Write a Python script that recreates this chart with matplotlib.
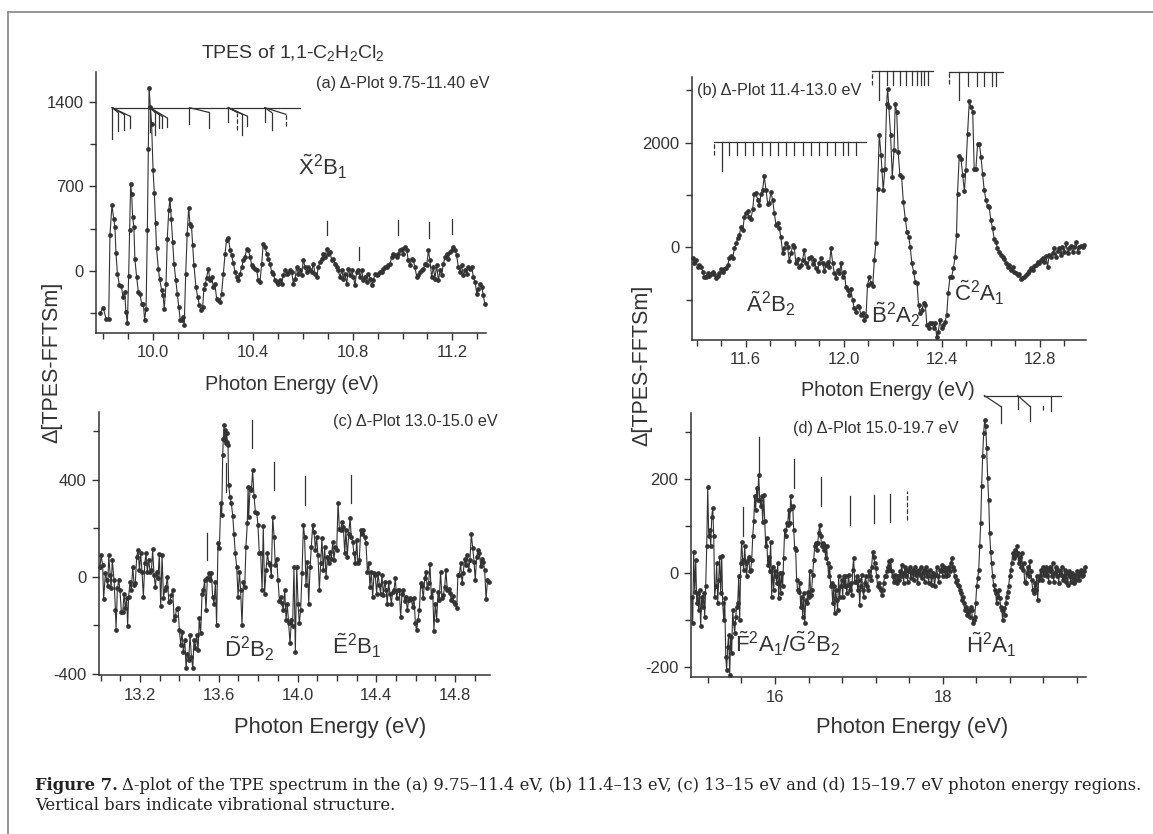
import matplotlib
matplotlib.use("Agg")
import matplotlib.pyplot as plt
from matplotlib.lines import Line2D
from matplotlib.ticker import MultipleLocator, FormatStrFormatter

plt.rcParams['font.family'] = ['Liberation Sans', 'DejaVu Sans']
plt.rcParams['mathtext.fontset'] = 'custom'
plt.rcParams['mathtext.rm'] = 'Liberation Sans'
plt.rcParams['mathtext.it'] = 'Liberation Sans:italic'
plt.rcParams['mathtext.bf'] = 'Liberation Sans:bold'

INK = '#333333'

# ---------------- panel (a): 9.75-11.40 eV ----------------
a_energy = [9.786, 9.799, 9.810, 9.821, 9.826, 9.834, 9.841, 9.846, 9.850, 9.856,
            9.864, 9.872, 9.878, 9.885, 9.890, 9.896, 9.901, 9.905, 9.909, 9.913,
            9.917, 9.922, 9.926, 9.933, 9.940, 9.946, 9.953, 9.960, 9.965, 9.971,
            9.976, 9.980, 9.983, 9.988, 9.993, 9.999, 10.004, 10.009, 10.013, 10.020,
            10.025, 10.033, 10.039, 10.044, 10.051, 10.056, 10.062, 10.067, 10.072, 10.078,
            10.083, 10.090, 10.096, 10.102, 10.108, 10.114, 10.120, 10.124, 10.130, 10.136,
            10.142, 10.147, 10.153, 10.158, 10.163, 10.171, 10.178, 10.185, 10.191, 10.198,
            10.203, 10.209, 10.214, 10.221, 10.227, 10.234, 10.241, 10.247, 10.254, 10.261,
            10.268, 10.274, 10.281, 10.288, 10.294, 10.301, 10.308, 10.314, 10.321, 10.328,
            10.334, 10.341, 10.348, 10.355, 10.361, 10.368, 10.375, 10.381, 10.388, 10.395,
            10.401, 10.408, 10.415, 10.421, 10.428, 10.435, 10.441, 10.448, 10.455, 10.462,
            10.468, 10.475, 10.482, 10.488, 10.495, 10.502, 10.508, 10.515, 10.522, 10.528,
            10.535, 10.542, 10.548, 10.555, 10.562, 10.569, 10.575, 10.582, 10.589, 10.595,
            10.602, 10.609, 10.615, 10.622, 10.629, 10.635, 10.642, 10.649, 10.656, 10.662,
            10.669, 10.676, 10.682, 10.689, 10.696, 10.702, 10.709, 10.716, 10.722, 10.729,
            10.736, 10.742, 10.749, 10.756, 10.763, 10.769, 10.776, 10.783, 10.789, 10.796,
            10.803, 10.809, 10.816, 10.823, 10.829, 10.836, 10.843, 10.849, 10.856, 10.863,
            10.870, 10.876, 10.883, 10.890, 10.896, 10.903, 10.910, 10.916, 10.923, 10.930,
            10.936, 10.943, 10.950, 10.957, 10.963, 10.970, 10.977, 10.983, 10.990, 10.997,
            11.003, 11.010, 11.017, 11.023, 11.030, 11.037, 11.043, 11.050, 11.057, 11.064,
            11.070, 11.077, 11.084, 11.090, 11.097, 11.104, 11.110, 11.117, 11.124, 11.130,
            11.137, 11.144, 11.151, 11.157, 11.164, 11.171, 11.177, 11.184, 11.191, 11.197,
            11.204, 11.211, 11.217, 11.224, 11.231, 11.237, 11.244, 11.251, 11.258, 11.264,
            11.271, 11.278, 11.284, 11.291, 11.298, 11.304, 11.311, 11.318, 11.324, 11.330]
a_signal = [-347, -303, -394, -394, 295, 543, 433, 364, 152, -22,
            -118, -127, -215, -174, -339, -430, -44, 336, 722, 639,
            446, 364, 102, -50, -174, -187, -270, -270, -402, -311,
            336, 1011, 1516, 1356, 1218, 832, 645, 397, 190, 19,
            -63, -154, -201, -311, -105, 267, 502, 598, 433, 240,
            61, -77, -187, -298, -402, -408, -380, -449, -22, 309,
            524, 391, 375, 212, 47, -132, -215, -284, -325, -298,
            -146, -105, -55, 19, -77, -50, -132, -105, -229, -243,
            -256, -187, -22, 143, 259, 276, 176, 130, 66, -8,
            -50, -77, -22, 33, 88, 116, 185, 176, 116, 47,
            33, 19, 6, -77, -91, 61, 226, 198, 143, 102,
            61, -8, -22, -77, -91, -105, -77, -105, -36, 11,
            -22, -17, 11, -8, -105, -63, 33, -22, 6, -36,
            88, 33, -8, 33, 6, -8, 61, -22, -50, 33,
            74, 102, 143, 116, 185, 143, 157, 88, 102, 61,
            33, 6, -50, 6, -63, -22, -105, 19, -36, 6,
            -50, -118, -8, 6, -50, 6, -77, -50, -91, -22,
            -63, -118, -77, -22, -36, -22, -8, -8, 19, 33,
            33, 47, 61, 116, 143, 130, 116, 143, 171, 185,
            143, 198, 171, 88, 47, 102, 88, 33, -50, -36,
            -8, 6, 19, 61, 47, 171, 88, -50, 33, -63,
            47, -77, 6, -36, 61, 116, 143, 102, 157, 171,
            198, 176, 130, 33, -8, 47, -36, 6, -22, 33,
            19, 33, -50, -91, -187, -146, -105, -132, -201, -270]

# vibrational progression fans above (a)
a_comb_level = 1350
a_comb_span = [9.835, 10.589]
a_origins = [9.835, 9.987, 10.145, 10.301, 10.448]
a_origin_low = [1094, 1150, 1218, 1232, 1232]
a_branches = [[9.859, 9.882, 9.906], [10.007, 10.021, 10.034, 10.056], [10.225],
              [10.337, 10.357, 10.377], [10.475, 10.532]]
a_branch_low = [[1158, 1163, 1185], [1122, 1180, 1185, 1190], [1185],
                [1163, 1122, 1196], [1163, 1196]]
a_dashed = [10.337, 10.532]
a_bar_x = [10.698, 10.825, 10.983, 11.106, 11.199]
a_bar_top = [413, 198, 419, 405, 433]
a_bar_low = [295, 94, 300, 276, 309]

# ---------------- panel (b): 11.4-13.0 eV ----------------
b_energy = [11.384, 11.391, 11.397, 11.404, 11.411, 11.418, 11.425, 11.431, 11.438, 11.445,
            11.452, 11.459, 11.465, 11.472, 11.479, 11.486, 11.493, 11.499, 11.506, 11.513,
            11.520, 11.527, 11.533, 11.540, 11.547, 11.554, 11.561, 11.567, 11.574, 11.581,
            11.588, 11.595, 11.601, 11.608, 11.615, 11.622, 11.629, 11.635, 11.642, 11.649,
            11.656, 11.663, 11.669, 11.676, 11.683, 11.690, 11.696, 11.703, 11.710, 11.717,
            11.724, 11.730, 11.737, 11.744, 11.751, 11.758, 11.764, 11.771, 11.778, 11.785,
            11.792, 11.798, 11.805, 11.812, 11.819, 11.826, 11.832, 11.839, 11.846, 11.853,
            11.860, 11.866, 11.873, 11.880, 11.887, 11.894, 11.900, 11.907, 11.914, 11.921,
            11.928, 11.934, 11.941, 11.948, 11.955, 11.962, 11.968, 11.975, 11.982, 11.989,
            11.995, 12.002, 12.009, 12.016, 12.023, 12.029, 12.036, 12.043, 12.050, 12.057,
            12.063, 12.070, 12.077, 12.084, 12.091, 12.097, 12.104, 12.111, 12.118, 12.125,
            12.131, 12.138, 12.145, 12.152, 12.156, 12.161, 12.168, 12.175, 12.179, 12.184,
            12.191, 12.198, 12.205, 12.210, 12.216, 12.222, 12.229, 12.236, 12.243, 12.251,
            12.258, 12.265, 12.271, 12.278, 12.285, 12.292, 12.299, 12.305, 12.312, 12.319,
            12.326, 12.333, 12.339, 12.346, 12.353, 12.360, 12.367, 12.373, 12.379, 12.386,
            12.392, 12.399, 12.406, 12.413, 12.420, 12.426, 12.433, 12.440, 12.447, 12.454,
            12.460, 12.464, 12.471, 12.478, 12.485, 12.492, 12.498, 12.505, 12.512, 12.519,
            12.526, 12.532, 12.539, 12.546, 12.553, 12.560, 12.566, 12.573, 12.580, 12.587,
            12.593, 12.600, 12.607, 12.614, 12.621, 12.627, 12.634, 12.641, 12.648, 12.655,
            12.661, 12.668, 12.675, 12.682, 12.689, 12.695, 12.702, 12.709, 12.716, 12.723,
            12.729, 12.736, 12.743, 12.750, 12.757, 12.763, 12.770, 12.777, 12.784, 12.791,
            12.797, 12.804, 12.811, 12.818, 12.825, 12.831, 12.838, 12.845, 12.852, 12.859,
            12.865, 12.872, 12.879, 12.886, 12.892, 12.899, 12.906, 12.913, 12.920, 12.927,
            12.933, 12.940, 12.947, 12.954, 12.960, 12.967, 12.974, 12.981]
b_signal = [-210, -305, -241, -368, -337, -368, -463, -559, -559, -495,
            -546, -508, -463, -508, -590, -546, -495, -419, -463, -419,
            -400, -337, -210, -165, -210, -19, 76, 171, 235, 394,
            330, 584, 660, 692, 584, 552, 743, 1029, 1041, 902,
            806, 1029, 1092, 1359, 1092, 838, 851, 1060, 902, 648,
            425, 470, 375, 190, -114, -19, 89, 13, -254, -114,
            44, 13, -305, -229, -381, -337, -241, -51, -305, -368,
            -210, -178, -317, -241, -400, -444, -305, -210, -305, -444,
            -337, -273, -368, -19, -305, -495, -590, -432, -495, -305,
            -559, -463, -749, -813, -908, -800, -1003, -1162, -1225, -1117,
            -1143, -1289, -1257, -1384, -1308, -717, -571, -686, -737, -241,
            76, 1124, 2152, 1771, 1473, 1092, 1505, 2743, 3029, 2679,
            2140, 1346, 1854, 2743, 2584, 1822, 1378, 1346, 870, 552,
            298, 203, 13, -305, -463, -654, -686, -1098, -1257, -1194,
            -1054, -1098, -1479, -1543, -1448, -1435, -1543, -1448, -1702, -1606,
            -1384, -1543, -1479, -1416, -1289, -876, -571, -559, -400, -178,
            235, 1029, 1746, 1695, 1390, 1073, 1473, 2171, 2787, 2679,
            2584, 1505, 1505, 1981, 1981, 1727, 1409, 1092, 902, 787,
            775, 521, 362, 152, 108, -19, -83, -146, -178, -229,
            -305, -368, -337, -432, -368, -463, -495, -527, -508, -610,
            -590, -559, -533, -483, -444, -400, -432, -356, -337, -273,
            -305, -241, -210, -273, -165, -368, -146, -178, -114, -19,
            -178, -63, -19, -146, 13, -83, 76, -114, -19, 25,
            -83, 13, 108, -83, 13, 25, 0, 44]

# comb-like progressions above (b)
b_comb_level = [2013, 3359, 3346]
b_comb_start = [11.472, 12.114, 12.430]
b_comb_end = [12.091, 12.365, 12.648]
b_comb_dash_low = [1759, 3092, 3124]
b_comb_main = [11.502, 12.144, 12.470]
b_comb_main_low = [1460, 2819, 2819]
b_comb_ticks = [[11.532, 11.565, 11.599, 11.632, 11.665, 11.698, 11.732, 11.765, 11.798,
                 11.832, 11.865, 11.898, 11.932, 11.965, 11.998, 12.019, 12.050],
                [12.175, 12.202, 12.229, 12.254, 12.277, 12.297, 12.314, 12.328, 12.345],
                [12.508, 12.542, 12.573, 12.603, 12.621]]
b_comb_tick_low = [1759, 3092, 3073]

# ---------------- panel (c): 13.0-15.0 eV ----------------
c_energy = [12.997, 13.002, 13.010, 13.015, 13.024, 13.031, 13.036, 13.041, 13.048, 13.053,
            13.059, 13.068, 13.075, 13.078, 13.085, 13.092, 13.098, 13.105, 13.112, 13.119,
            13.125, 13.132, 13.137, 13.142, 13.149, 13.156, 13.163, 13.170, 13.176, 13.183,
            13.190, 13.197, 13.203, 13.210, 13.217, 13.224, 13.230, 13.237, 13.244, 13.251,
            13.258, 13.264, 13.271, 13.278, 13.285, 13.291, 13.298, 13.305, 13.312, 13.319,
            13.325, 13.332, 13.339, 13.346, 13.352, 13.359, 13.366, 13.373, 13.379, 13.386,
            13.393, 13.400, 13.407, 13.413, 13.420, 13.427, 13.434, 13.440, 13.447, 13.454,
            13.461, 13.468, 13.474, 13.481, 13.488, 13.495, 13.501, 13.508, 13.515, 13.522,
            13.528, 13.535, 13.542, 13.549, 13.556, 13.562, 13.569, 13.576, 13.583, 13.589,
            13.596, 13.603, 13.610, 13.615, 13.620, 13.623, 13.627, 13.630, 13.633, 13.637,
            13.640, 13.644, 13.647, 13.650, 13.657, 13.664, 13.671, 13.677, 13.684, 13.691,
            13.698, 13.705, 13.711, 13.718, 13.725, 13.732, 13.738, 13.745, 13.749, 13.752,
            13.759, 13.766, 13.772, 13.779, 13.786, 13.793, 13.799, 13.806, 13.813, 13.820,
            13.826, 13.833, 13.840, 13.847, 13.854, 13.860, 13.867, 13.874, 13.881, 13.887,
            13.894, 13.901, 13.908, 13.915, 13.921, 13.928, 13.935, 13.942, 13.948, 13.955,
            13.962, 13.969, 13.975, 13.982, 13.989, 13.996, 14.003, 14.009, 14.016, 14.023,
            14.030, 14.036, 14.043, 14.050, 14.057, 14.064, 14.070, 14.077, 14.084, 14.091,
            14.097, 14.104, 14.111, 14.118, 14.124, 14.131, 14.138, 14.145, 14.152, 14.158,
            14.165, 14.172, 14.179, 14.185, 14.192, 14.199, 14.206, 14.213, 14.219, 14.226,
            14.233, 14.240, 14.246, 14.253, 14.260, 14.267, 14.273, 14.280, 14.287, 14.294,
            14.301, 14.307, 14.314, 14.321, 14.328, 14.334, 14.341, 14.348, 14.355, 14.362,
            14.368, 14.375, 14.382, 14.389, 14.395, 14.402, 14.409, 14.416, 14.422, 14.429,
            14.436, 14.443, 14.450, 14.456, 14.463, 14.470, 14.477, 14.483, 14.490, 14.497,
            14.504, 14.510, 14.517, 14.524, 14.531, 14.538, 14.544, 14.551, 14.558, 14.565,
            14.571, 14.578, 14.585, 14.592, 14.599, 14.605, 14.612, 14.619, 14.626, 14.632,
            14.639, 14.646, 14.653, 14.659, 14.666, 14.673, 14.680, 14.687, 14.693, 14.700,
            14.707, 14.714, 14.720, 14.727, 14.734, 14.741, 14.748, 14.754, 14.761, 14.768,
            14.775, 14.781, 14.788, 14.795, 14.802, 14.809, 14.815, 14.822, 14.829, 14.836,
            14.842, 14.849, 14.856, 14.863, 14.870, 14.876, 14.883, 14.890, 14.897, 14.903,
            14.910, 14.917, 14.924, 14.931, 14.937, 14.944, 14.951, 14.958, 14.965, 14.971]
c_signal = [41, 89, 48, -93, 16, -14, -38, 89, 7, -48,
            69, -14, -137, -217, -48, -14, -55, -144, -144, -69,
            -130, -89, -203, -82, -21, -55, 41, -34, -25, 82,
            110, 27, 96, 21, -82, 55, 96, 21, 69, 21,
            27, 113, 7, -41, 21, -7, 93, -121, 89, -89,
            -55, -41, 0, -103, -99, -75, -55, -176, -162, -134,
            -130, -220, -281, -226, -309, -258, -377, -316, -343, -240,
            -329, -377, -261, -295, -240, -302, -171, -233, -71, -55,
            -14, -137, -7, 14, -14, 16, -82, -110, -21, -199,
            137, 117, 305, 254, 501, 565, 624, 563, 604, 549,
            590, 556, 542, 377, 329, 302, 250, 178, 96, 41,
            -82, 21, -55, -199, -21, -41, 123, 220, 370, 247,
            364, 357, 439, 332, 268, 263, 213, 96, 96, -55,
            209, -69, 27, 96, 55, 48, 3, 244, 165, 48,
            75, -14, -99, -82, -107, -137, -55, -178, -110, -192,
            -274, -178, -203, 41, -309, 41, -110, -192, -137, 16,
            213, 165, -34, 62, -110, 41, 123, 213, 185, 110,
            165, 89, -55, 55, 158, 27, 123, 0, 82, 55,
            103, 75, 144, 69, 123, 110, 305, 195, 192, 226,
            206, 96, 192, 82, 178, 240, 165, 144, 96, 55,
            151, 55, 69, 192, 176, 192, 165, 137, 21, 55,
            -41, 21, -82, 16, 7, -69, 14, -34, -69, 7,
            -75, -21, -55, -110, -21, -71, -110, -62, -55, -7,
            -89, -55, -55, -167, -69, -55, -99, -82, -137, -96,
            -89, -93, -123, -89, -192, -220, -178, -137, -25, -38,
            -89, -7, 21, -48, -27, 52, -82, -55, -222, -110,
            -178, -62, -96, 21, -89, -75, -41, 27, -55, -52,
            -66, -96, -80, -103, -110, -130, 7, 7, 55, -27,
            16, 75, 48, 89, 27, 69, 176, 117, 62, -14,
            82, 110, 96, 44, 75, 62, 27, -93, -14, -21]

c_bar_x = [13.542, 13.635, 13.767, 13.882, 14.038, 14.270]
c_bar_top = [181, 466, 645, 473, 414, 418]
c_bar_low = [69, 350, 528, 357, 295, 302]

# ---------------- panel (d): 15.0-19.7 eV ----------------
d_energy = [15.006, 15.018, 15.030, 15.042, 15.054, 15.066, 15.078, 15.089, 15.101, 15.113,
            15.125, 15.137, 15.149, 15.161, 15.173, 15.185, 15.197, 15.209, 15.221, 15.233,
            15.245, 15.257, 15.269, 15.280, 15.292, 15.304, 15.316, 15.328, 15.340, 15.352,
            15.364, 15.376, 15.388, 15.400, 15.412, 15.423, 15.435, 15.447, 15.459, 15.471,
            15.483, 15.495, 15.507, 15.519, 15.531, 15.543, 15.555, 15.567, 15.579, 15.591,
            15.602, 15.614, 15.626, 15.638, 15.650, 15.662, 15.674, 15.686, 15.698, 15.710,
            15.722, 15.734, 15.746, 15.758, 15.769, 15.781, 15.793, 15.805, 15.817, 15.829,
            15.841, 15.853, 15.865, 15.877, 15.889, 15.901, 15.913, 15.924, 15.936, 15.948,
            15.960, 15.972, 15.984, 15.996, 16.008, 16.020, 16.032, 16.044, 16.056, 16.068,
            16.079, 16.091, 16.103, 16.115, 16.127, 16.139, 16.151, 16.163, 16.175, 16.187,
            16.199, 16.211, 16.223, 16.235, 16.246, 16.258, 16.270, 16.282, 16.294, 16.306,
            16.318, 16.330, 16.342, 16.354, 16.366, 16.378, 16.390, 16.401, 16.413, 16.425,
            16.437, 16.449, 16.461, 16.473, 16.485, 16.497, 16.509, 16.521, 16.533, 16.545,
            16.557, 16.568, 16.580, 16.592, 16.604, 16.616, 16.628, 16.640, 16.652, 16.664,
            16.676, 16.688, 16.700, 16.712, 16.723, 16.735, 16.747, 16.759, 16.771, 16.783,
            16.795, 16.807, 16.819, 16.831, 16.843, 16.855, 16.867, 16.879, 16.890, 16.902,
            16.914, 16.926, 16.938, 16.950, 16.962, 16.974, 16.986, 16.998, 17.010, 17.022,
            17.034, 17.046, 17.057, 17.069, 17.081, 17.093, 17.105, 17.117, 17.129, 17.141,
            17.153, 17.165, 17.177, 17.189, 17.201, 17.213, 17.224, 17.236, 17.248, 17.260,
            17.272, 17.284, 17.296, 17.308, 17.320, 17.332, 17.344, 17.356, 17.368, 17.380,
            17.392, 17.403, 17.415, 17.427, 17.439, 17.451, 17.463, 17.475, 17.487, 17.499,
            17.511, 17.523, 17.535, 17.547, 17.558, 17.570, 17.582, 17.594, 17.606, 17.618,
            17.630, 17.642, 17.654, 17.666, 17.678, 17.690, 17.702, 17.714, 17.725, 17.737,
            17.749, 17.761, 17.773, 17.785, 17.797, 17.809, 17.821, 17.833, 17.845, 17.857,
            17.869, 17.880, 17.892, 17.904, 17.916, 17.928, 17.940, 17.952, 17.964, 17.976,
            17.988, 18.000, 18.012, 18.024, 18.035, 18.047, 18.059, 18.071, 18.083, 18.095,
            18.107, 18.119, 18.131, 18.143, 18.155, 18.167, 18.179, 18.191, 18.202, 18.214,
            18.227, 18.239, 18.251, 18.263, 18.275, 18.287, 18.299, 18.311, 18.322, 18.334,
            18.346, 18.358, 18.370, 18.382, 18.394, 18.406, 18.418, 18.430, 18.442, 18.454,
            18.465, 18.477, 18.489, 18.501, 18.513, 18.525, 18.537, 18.549, 18.561, 18.573,
            18.584, 18.596, 18.608, 18.620, 18.632, 18.644, 18.656, 18.668, 18.680, 18.692,
            18.704, 18.716, 18.728, 18.740, 18.751, 18.763, 18.775, 18.787, 18.799, 18.811,
            18.823, 18.835, 18.847, 18.859, 18.871, 18.883, 18.895, 18.907, 18.918, 18.930,
            18.942, 18.954, 18.966, 18.978, 18.990, 19.002, 19.014, 19.026, 19.038, 19.050,
            19.062, 19.074, 19.085, 19.097, 19.109, 19.121, 19.133, 19.145, 19.157, 19.169,
            19.181, 19.193, 19.205, 19.217, 19.229, 19.241, 19.252, 19.264, 19.276, 19.288,
            19.300, 19.312, 19.324, 19.336, 19.348, 19.360, 19.372, 19.384, 19.396, 19.408,
            19.419, 19.431, 19.443, 19.455, 19.467, 19.479, 19.491, 19.503, 19.515, 19.527,
            19.539, 19.551, 19.563, 19.575, 19.586, 19.598, 19.610, 19.622, 19.634, 19.646,
            19.658, 19.670, 19.682, 19.694]
d_signal = [-50, -106, 46, -39, 28, -64, -42, -78, -35, -113,
            -50, -71, -42, -92, -28, 57, 183, 78, 92, 57,
            120, 139, 78, -50, -28, 21, -64, -14, 35, -42,
            37, -64, -99, -53, -177, -205, -156, -131, -216, -135,
            -170, -78, -106, -127, -92, -71, -64, -7, -99, 21,
            67, 28, 7, 57, 21, -7, 28, 35, 4, 7,
            28, 78, 110, 163, 135, 181, 156, 209, 156, 142,
            163, 108, 166, 110, 57, 74, 18, 35, 4, 67,
            -50, 14, -35, 4, -7, -21, 21, -53, 0, -42,
            1, -28, 32, 92, 78, 106, 103, 135, 106, 163,
            138, 142, 92, 53, 50, -14, -35, -39, -21, -71,
            -50, -92, -42, -106, -57, -64, -39, -50, 4, -46,
            -35, -4, 28, 57, 64, 50, 64, 85, 103, 78,
            57, 64, 50, 57, 32, 57, 21, -7, 14, -28,
            -21, -64, -28, -85, -35, -57, -78, -7, -50, -28,
            -14, -50, -7, -28, -7, -42, -25, -4, -35, -21,
            -46, 7, 32, -18, -18, -7, -35, -14, -67, -28,
            -4, -35, -50, -21, -7, -28, -35, 4, -7, -14,
            14, 44, 35, 21, 11, -7, -28, -21, -32, -35,
            -46, -35, -21, -7, -7, 4, 14, 25, 7, 28,
            4, -7, -18, -4, -14, -21, -7, -14, 4, -7,
            18, 0, -21, 14, -7, 7, -18, 4, 14, -11,
            0, 7, -14, 14, -4, 4, -21, 7, -4, 14,
            -11, 0, 7, -18, 14, -7, 4, -21, 7, -7,
            -25, 0, -7, -28, -4, 14, -7, -18, 7, 4,
            18, -7, 14, 4, -7, 11, -4, 14, 4, 21,
            32, 14, 7, -7, -18, -14, -25, -28, -35, -42,
            -57, -50, -64, -78, -71, -89, -85, -78, -92, -71,
            -78, -106, -99, -92, -64, -28, -11, 7, 57, 106,
            184, 248, 297, 326, 312, 265, 202, 156, 85, 46,
            21, -7, -25, -35, -42, -64, -50, -35, -53, -71,
            -78, -99, -74, -89, -64, -50, -39, -28, -7, 7,
            21, 42, 32, 50, 39, 57, 42, 21, 35, 14,
            42, 7, 21, -18, -21, 0, 14, -7, 25, 4,
            -14, -35, -42, -21, -35, -7, -57, -14, -7, 7,
            -14, 14, -4, 4, 14, -7, 7, -18, 14, 4,
            -7, 21, -18, 0, 14, -7, 7, -21, 4, -4,
            14, -14, -7, 7, -18, 0, -25, 4, -7, -18,
            0, -11, -21, -4, -14, 4, -7, -14, 0, 7,
            -7, -4, 4, 14]

d_bar_x = [15.622, 15.805, 16.223, 16.549, 16.895, 17.181, 17.372, 17.579]
d_bar_top = [140, 289, 242, 204, 164, 166, 168, 175]
d_bar_low = [79, 207, 181, 142, 103, 106, 108, 113]
d_comb_level = 377
d_comb_span = [18.497, 19.408]
d_fan_from = [18.497, 18.895]
d_fan_to = [18.692, 19.042]
d_fan_knee = [354, 354]
d_fan_low = [319, 322]
d_comb_ticks = [18.895, 19.288]
d_comb_tick_low = [348, 345]
d_comb_dash = 19.201


fig = plt.figure(figsize=(11.53, 8.34), dpi=100)
W, H = 1153.0, 834.0


def box(left, top, right, bottom):
    return [left / W, 1 - bottom / H, (right - left) / W, (bottom - top) / H]


def style(ax, xlim, ylim, xmaj, xmin, ymaj, ymin, xfmt):
    ax.set_xlim(xlim)
    ax.set_ylim(ylim)
    ax.xaxis.set_major_locator(MultipleLocator(xmaj))
    ax.xaxis.set_minor_locator(MultipleLocator(xmin))
    ax.yaxis.set_major_locator(MultipleLocator(ymaj))
    ax.yaxis.set_minor_locator(MultipleLocator(ymin))
    ax.xaxis.set_major_formatter(FormatStrFormatter(xfmt))
    ax.yaxis.set_major_formatter(FormatStrFormatter('%d'))
    for s in ['top', 'right']:
        ax.spines[s].set_visible(False)
    for s in ['left', 'bottom']:
        ax.spines[s].set_color(INK)
        ax.spines[s].set_linewidth(1.1)
    ax.tick_params(which='major', direction='out', length=5, width=1, color=INK,
                   labelsize=12, labelcolor=INK, pad=4)
    ax.tick_params(which='minor', direction='out', length=4, width=1, color=INK)
    ax.patch.set_alpha(0)


def spectrum(ax, x, y):
    ax.plot(x, y, '-', color=INK, lw=0.8, marker='o', ms=2.4,
            mfc=INK, mec=INK, clip_on=False)


def vbar(ax, x, top, low, dashed=False):
    ax.plot([x, x], [low, top], color=INK, lw=0.9, ls='--' if dashed else '-',
            clip_on=False)


def seg(ax, xs, ys, dashed=False):
    ax.plot(xs, ys, color=INK, lw=0.9, ls='--' if dashed else '-', clip_on=False)


lab = dict(fontsize=16, color=INK, ha='center', va='center')

# ---- (a)
ax_a = fig.add_axes(box(96, 72, 486, 333))
style(ax_a, (9.770, 11.335), (-513, 1645), 0.4, 0.1, 700, 350, '%.1f')
spectrum(ax_a, a_energy, a_signal)
seg(ax_a, a_comb_span, [a_comb_level, a_comb_level])
for x0, low0, brs, lows in zip(a_origins, a_origin_low, a_branches, a_branch_low):
    vbar(ax_a, x0, a_comb_level, low0)
    for i, (xb, lb) in enumerate(zip(brs, lows)):
        knee = a_comb_level - 40 - 15 * i
        dash = xb in a_dashed
        seg(ax_a, [x0, xb], [a_comb_level, knee])
        vbar(ax_a, xb, knee, lb, dash)
for x, t, l in zip(a_bar_x, a_bar_top, a_bar_low):
    vbar(ax_a, x, t, l)
ax_a.text(11.351, 1554, u'(a) \u0394-Plot 9.75-11.40 eV', fontsize=11.7, color=INK,
          ha='right', va='center')
ax_a.text(10.680, 860, r'$\tilde{\mathrm{X}}^2\mathrm{B}_1$', **lab)

# ---- (b)
ax_b = fig.add_axes(box(691.7, 77, 1086, 340))
style(ax_b, (11.380, 12.988), (-1765, 3251), 0.4, 0.1, 2000, 1000, '%.1f')
spectrum(ax_b, b_energy, b_signal)
for k in range(3):
    lev = b_comb_level[k]
    seg(ax_b, [b_comb_start[k], b_comb_end[k]], [lev, lev])
    vbar(ax_b, b_comb_start[k], lev, b_comb_dash_low[k], dashed=True)
    vbar(ax_b, b_comb_main[k], lev, b_comb_main_low[k])
    for xt in b_comb_ticks[k]:
        vbar(ax_b, xt, lev, b_comb_tick_low[k])
ax_b.text(11.400, 2997, u'(b) \u0394-Plot 11.4-13.0 eV', fontsize=11.7, color=INK,
          ha='left', va='center')
ax_b.text(11.703, -1079, r'$\tilde{\mathrm{A}}^2\mathrm{B}_2$', **lab)
ax_b.text(12.210, -1289, r'$\tilde{\mathrm{B}}^2\mathrm{A}_2$', **lab)
ax_b.text(12.554, -876, r'$\tilde{\mathrm{C}}^2\mathrm{A}_1$', **lab)

# ---- (c)
ax_c = fig.add_axes(box(99.3, 411.7, 490, 675))
style(ax_c, (12.993, 14.978), (-404, 679), 0.4, 0.1, 400, 200, '%.1f')
spectrum(ax_c, c_energy, c_signal)
for x, t, l in zip(c_bar_x, c_bar_top, c_bar_low):
    vbar(ax_c, x, t, l)
ax_c.text(15.015, 638, u'(c) \u0394-Plot 13.0-15.0 eV', fontsize=11.7, color=INK,
          ha='right', va='center')
ax_c.text(13.755, -295, r'$\tilde{\mathrm{D}}^2\mathrm{B}_2$', **lab)
ax_c.text(14.302, -283, r'$\tilde{\mathrm{E}}^2\mathrm{B}_1$', **lab)

# ---- (d)
ax_d = fig.add_axes(box(690.7, 413, 1086, 677.3))
style(ax_d, (14.994, 19.71), (-221, 340), 2, 0.4, 200, 100, '%d')
spectrum(ax_d, d_energy, d_signal)
for i, x in enumerate(d_bar_x):
    vbar(ax_d, x, d_bar_top[i], d_bar_low[i], dashed=(i == len(d_bar_x) - 1))
seg(ax_d, d_comb_span, [d_comb_level, d_comb_level])
for x0, x1, kn, lo in zip(d_fan_from, d_fan_to, d_fan_knee, d_fan_low):
    seg(ax_d, [x0, x1], [d_comb_level, kn])
    vbar(ax_d, x1, kn, lo)
for xt, lo in zip(d_comb_ticks, d_comb_tick_low):
    vbar(ax_d, xt, d_comb_level, lo)
vbar(ax_d, d_comb_dash, 356, 346, dashed=True)
ax_d.text(16.219, 308, u'(d) \u0394-Plot 15.0-19.7 eV', fontsize=11.7, color=INK,
          ha='left', va='center')
ax_d.text(16.147, -150, r'$\tilde{\mathrm{F}}^2\mathrm{A}_1/\tilde{\mathrm{G}}^2\mathrm{B}_2$', **lab)
ax_d.text(18.584, -152, r'$\tilde{\mathrm{H}}^2\mathrm{A}_1$', **lab)

# x-axis titles (the lower pair is printed a little larger in the source)
for xc, yc, fs in [(292, 385, 14.2), (888, 390, 14.2), (330, 727, 15.8), (912, 727, 15.8)]:
    fig.text(xc / W, 1 - yc / H, 'Photon Energy (eV)', fontsize=fs, color=INK,
             ha='center', va='center')

# shared texts
fig.text(293 / W, 1 - 53 / H, r'TPES of 1,1-C$_2$H$_2$Cl$_2$', fontsize=14, color=INK,
         ha='center', va='center')
for xl, yl in [(52, 362), (642, 365)]:
    fig.text(xl / W, 1 - yl / H, u'\u0394[TPES-FFTSm]', fontsize=15.5, color=INK,
             rotation=90, ha='center', va='center')

# frame lines of the figure box
fig.add_artist(Line2D([8 / W, 1.0], [1 - 12 / H, 1 - 12 / H], transform=fig.transFigure,
                      color='#8c8c8c', lw=1.3))
fig.add_artist(Line2D([8 / W, 8 / W], [0.0, 1 - 12 / H], transform=fig.transFigure,
                      color='#8c8c8c', lw=1.3))

# caption
cap_font = dict(family='DejaVu Serif', fontsize=11.8, color='#222222', va='center')
t1 = fig.text(35 / W, 1 - 786 / H, 'Figure 7.', fontweight='bold', **cap_font)
renderer = fig.canvas.get_renderer()
bb = t1.get_window_extent(renderer=renderer)
fig.text((bb.x1 + 4) / W, 1 - 786 / H,
         u'\u0394-plot of the TPE spectrum in the (a) 9.75\u201311.4 eV, (b) 11.4\u201313 eV, '
         u'(c) 13\u201315 eV and (d) 15\u201319.7 eV photon energy regions.', **cap_font)
fig.text(35 / W, 1 - 806 / H, 'Vertical bars indicate vibrational structure.', **cap_font)

fig.savefig('out.png', dpi=100, facecolor='white')
